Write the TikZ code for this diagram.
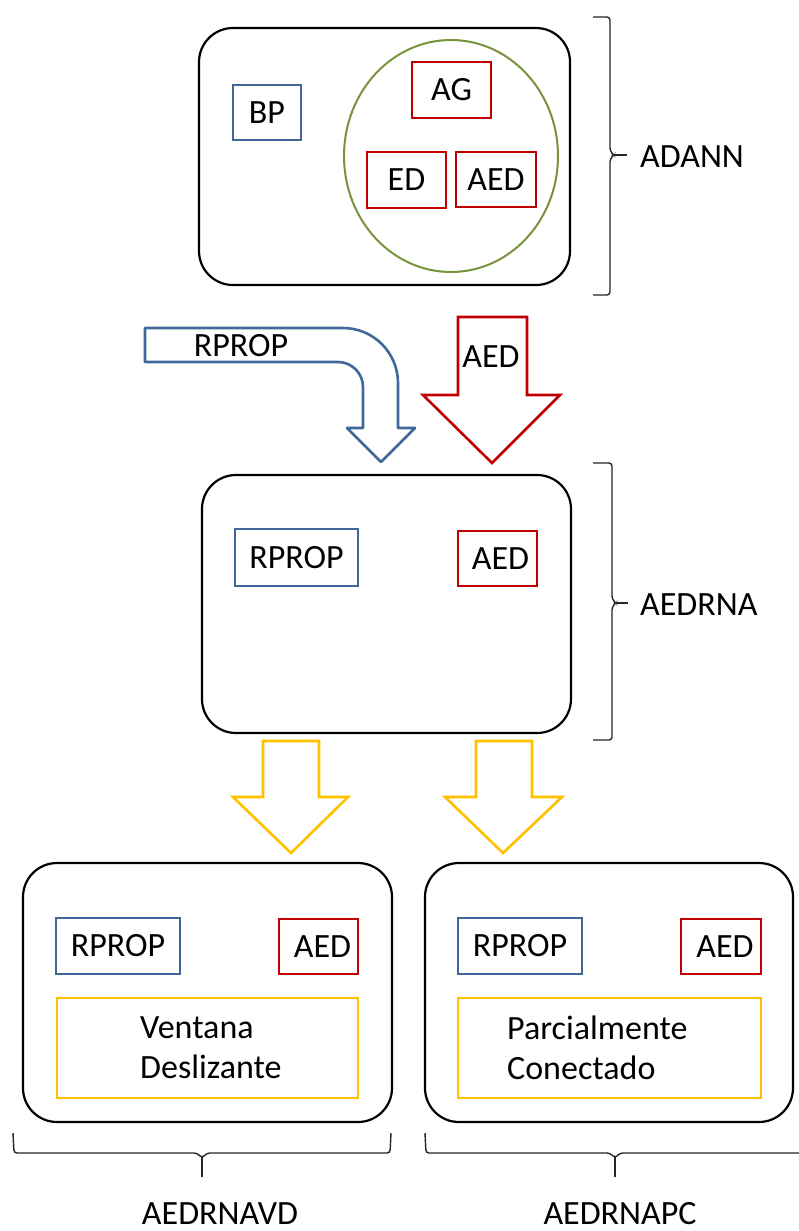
\documentclass[tikz,border=0pt]{standalone}
\usepackage{fontspec}
\setmainfont{Carlito}
\usetikzlibrary{shapes.geometric}
\definecolor{boxblue}{HTML}{41689A}
\definecolor{boxred}{HTML}{C00000}
\definecolor{boxgreen}{HTML}{77933C}
\definecolor{boxyellow}{HTML}{FFC000}
\begin{document}
\begin{tikzpicture}[x=1pt,y=-1pt,
  every node/.style={font=\fontsize{34}{40}\selectfont, inner sep=0pt},
  container/.style={draw=black, line width=2.2pt, rounded corners=34pt, rectangle},
  bluebox/.style={draw=boxblue, line width=2.2pt, rectangle},
  redbox/.style={draw=boxred, line width=2.2pt, rectangle},
  yellowbox/.style={draw=boxyellow, line width=2.2pt, rectangle},
  blockblue/.style={draw=boxblue, line width=2.6pt, line join=round, fill=white},
  blockred/.style={draw=boxred, line width=2.6pt, line join=miter, fill=white},
  blockyellow/.style={draw=boxyellow, line width=2.6pt, line join=miter, fill=white},
  bracket/.style={draw=black!85, line width=1.4pt, rounded corners=3pt},
  sidelabel/.style={anchor=west},
]
\useasboundingbox (0,0) rectangle (799,1231);
\fill[white] (0,0) rectangle (799,1231);

% ---- ADANN block ----
\node[container, minimum width=371pt, minimum height=257pt] (adann) at (384.5,156.5) {};
\node[bluebox, minimum width=68pt, minimum height=55pt] (bp) at (267,112.5) {BP};
\node[ellipse, draw=boxgreen, line width=2pt, minimum width=214pt, minimum height=232pt] (evo) at (451,156) {};
\node[redbox, minimum width=79pt, minimum height=56pt] (ag) at (451.5,90) {AG};
\node[redbox, minimum width=79pt, minimum height=56pt] (ed) at (406.5,180) {ED};
\node[redbox, minimum width=80pt, minimum height=55pt] (aed1) at (496,179.5) {AED};

\draw[bracket] (593,17) -- (610,17) -- (610,151) -- (614,155) -- (610,159) -- (610,295) -- (593,295);
\draw[draw=black!85, line width=1.4pt] (612,155) -- (627,155);
\node[sidelabel] (ladann) at (640,157) {ADANN};

% ---- incoming block arrows ----
\draw[blockblue] (145,328) -- (343,328) arc[start angle=-90, end angle=0, radius=55]
  -- (398,428) -- (415,428) -- (381,462) -- (347,428) -- (363,428) -- (363,387)
  arc[start angle=0, end angle=-90, radius=25] -- (145,362) -- cycle;
\node (lrprop) at (241,346) {RPROP};

\draw[blockred] (458,317) -- (527,317) -- (527,395) -- (560,395) -- (492,463)
  -- (423,395) -- (458,395) -- cycle;
\node (laed) at (491,357) {AED};

% ---- AEDRNA block ----
\node[container, minimum width=369pt, minimum height=258pt] (aedrna) at (386.5,604) {};
\node[bluebox, minimum width=123pt, minimum height=57pt] (rp2) at (296.5,557.5) {RPROP};
\node[redbox, minimum width=79pt, minimum height=55pt] (aed2) at (497.5,558.5) {\hspace{6pt}AED};

\draw[bracket] (593,463) -- (612,463) -- (612,599) -- (616,603) -- (612,607) -- (612,740) -- (593,740);
\draw[draw=black!85, line width=1.4pt] (614,603) -- (628,603);
\node[sidelabel] (laedrna) at (640,605) {AEDRNA};

% ---- outgoing block arrows ----
\draw[blockyellow] (263,741) -- (319,741) -- (319,797) -- (348,797) -- (291,853)
  -- (233,797) -- (263,797) -- cycle;
\draw[blockyellow] (476,741) -- (532,741) -- (532,797) -- (562,797) -- (503,853)
  -- (445,797) -- (476,797) -- cycle;

% ---- AEDRNAVD block ----
\node[container, minimum width=369pt, minimum height=259pt] (vd) at (207.5,992.5) {};
\node[bluebox, minimum width=124pt, minimum height=56pt] (rp3) at (118,946) {RPROP};
\node[redbox, minimum width=79pt, minimum height=55pt] (aed3) at (318.5,946.5) {\hspace{8pt}AED};
\node[yellowbox, minimum width=301pt, minimum height=100pt] (vent) at (207.5,1048) {};
\node[anchor=west, align=left] (tvent) at (140,1048) {Ventana\\Deslizante};

% ---- AEDRNAPC block ----
\node[container, minimum width=368pt, minimum height=259pt] (pc) at (609,992.5) {};
\node[bluebox, minimum width=124pt, minimum height=56pt] (rp4) at (520,946) {RPROP};
\node[redbox, minimum width=80pt, minimum height=55pt] (aed4) at (721,946.5) {\hspace{8pt}AED};
\node[yellowbox, minimum width=303pt, minimum height=100pt] (parc) at (609.5,1048) {};
\node[anchor=west, align=left] (tparc) at (507,1048) {Parcialmente\\Conectado};

% ---- bottom braces ----
\draw[bracket] (13,1133) -- (14,1153) -- (197,1153) -- (202,1158) -- (207,1153) -- (390,1153) -- (391,1133);
\draw[draw=black!85, line width=1.4pt] (202,1156) -- (202,1177);
\node (lvd) at (220,1214) {AEDRNAVD};

\draw[bracket] (425,1133) -- (426,1153) -- (610,1153) -- (615,1158) -- (620,1153) -- (805,1153);
\draw[draw=black!85, line width=1.4pt] (615,1156) -- (615,1177);
\node (lpc) at (620,1214) {AEDRNAPC};
\end{tikzpicture}
\end{document}
